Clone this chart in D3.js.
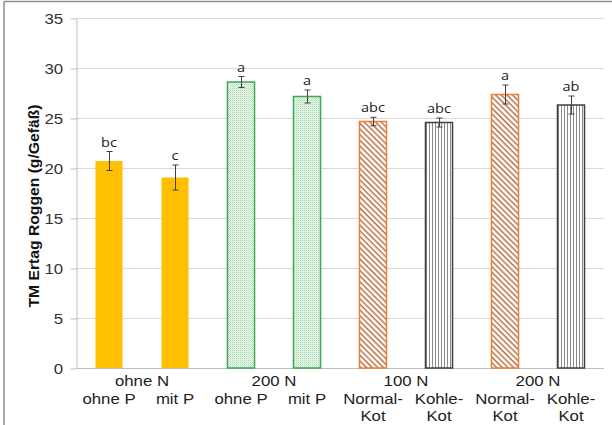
<!DOCTYPE html>
<html>
<head>
<meta charset="utf-8">
<script src="https://cdn.jsdelivr.net/npm/d3@7"></script>
<style>
  body { margin: 0; background: #fff; }
  svg { display: block; }
</style>
</head>
<body>
<svg id="chart" width="612" height="425"></svg>
<script>
// values
var groups = ["ohne N", "200 N", "100 N", "200 N"];
var subLabels = [["ohne P"], ["mit P"], ["ohne P"], ["mit P"],
                 ["Normal-", "Kot"], ["Kohle-", "Kot"], ["Normal-", "Kot"], ["Kohle-", "Kot"]];
var values = [20.7, 19.05, 28.6, 27.15, 24.65, 24.55, 27.35, 26.3];
var errors = [0.95, 1.25, 0.55, 0.65, 0.42, 0.45, 0.95, 0.9];
var letters = ["bc", "c", "a", "a", "abc", "abc", "a", "ab"];
var kinds = ["solid", "solid", "dots", "dots", "hatch", "stripes", "hatch", "stripes"];
var yTicks = [0, 5, 10, 15, 20, 25, 30, 35];

var svg = d3.select("#chart");
var stretch = 1.12;

var x = d3.scaleBand().domain(d3.range(values.length))
    .range([76, 604]).paddingInner(0.59).paddingOuter(0.295);
var y = d3.scaleLinear().domain([0, 35]).range([368, 18]);

// patterns
var defs = svg.append("defs");
var dots = defs.append("pattern").attr("id", "dots")
    .attr("width", 2).attr("height", 2).attr("patternUnits", "userSpaceOnUse");
dots.append("rect").attr("width", 2).attr("height", 2).attr("fill", "#eef8ef");
dots.append("rect").attr("width", 1).attr("height", 1).attr("fill", "#a9d9b0");
dots.append("rect").attr("x", 1).attr("y", 1).attr("width", 1).attr("height", 1).attr("fill", "#cbe9cf");

var hatch = defs.append("pattern").attr("id", "hatch")
    .attr("width", 4).attr("height", 4).attr("patternUnits", "userSpaceOnUse")
    .attr("patternTransform", "rotate(45)");
hatch.append("rect").attr("width", 4).attr("height", 4).attr("fill", "#fff");
hatch.append("rect").attr("width", 4).attr("height", 1.4).attr("fill", "#b5683a");

var stripes = defs.append("pattern").attr("id", "stripes")
    .attr("width", 3).attr("height", 3).attr("patternUnits", "userSpaceOnUse");
stripes.append("rect").attr("width", 3).attr("height", 3).attr("fill", "#fff");
stripes.append("rect").attr("width", 1).attr("height", 3).attr("fill", "#8a8a8a");

var fillOf = { solid: "#ffc000", dots: "url(#dots)", hatch: "url(#hatch)", stripes: "url(#stripes)" };
var strokeOf = { solid: "none", dots: "#3fa852", hatch: "#ed7d31", stripes: "#404040" };

// outer frame (top and left edges only)
svg.append("line").attr("x1", 4).attr("x2", 612).attr("y1", 1.5).attr("y2", 1.5)
    .attr("stroke", "#8c8c8c").attr("stroke-width", 1.5);
svg.append("line").attr("x1", 4).attr("x2", 4).attr("y1", 1.5).attr("y2", 425)
    .attr("stroke", "#8c8c8c").attr("stroke-width", 1.5);

// gridlines
svg.append("g").selectAll("line").data(yTicks.slice(1)).join("line")
    .attr("x1", 76).attr("x2", 604)
    .attr("y1", function(d){ return Math.round(y(d)) + 0.5; })
    .attr("y2", function(d){ return Math.round(y(d)) + 0.5; })
    .attr("stroke", "#d9d9d9");

// y axis
var yAxis = svg.append("g").attr("transform", "translate(76.5,0.5)")
    .call(d3.axisLeft(y).tickValues(yTicks).tickSize(6).tickPadding(6).tickSizeOuter(0));
yAxis.select(".domain").attr("stroke", "#bfbfbf");
yAxis.selectAll(".tick line").attr("stroke", "#bfbfbf");
yAxis.selectAll(".tick text")
    .attr("font-family", "Liberation Sans, Arial, sans-serif")
    .attr("font-size", 15).attr("fill", "#333")
    .attr("transform", "scale(" + stretch + ",1)");

// x baseline
svg.append("line").attr("x1", 76).attr("x2", 604)
    .attr("y1", y(0) + 0.5).attr("y2", y(0) + 0.5).attr("stroke", "#bfbfbf");

// bars
svg.append("g").selectAll("rect").data(values).join("rect")
    .attr("x", function(d, i){ return x(i); })
    .attr("y", function(d){ return y(d); })
    .attr("width", x.bandwidth())
    .attr("height", function(d){ return y(0) - y(d); })
    .attr("fill", function(d, i){ return fillOf[kinds[i]]; })
    .attr("stroke", function(d, i){ return strokeOf[kinds[i]]; })
    .attr("stroke-width", 1.5);

// error bars
var eb = svg.append("g").attr("stroke", "#404040").attr("stroke-width", 1);
values.forEach(function(v, i){
    var cx = Math.round(x(i) + x.bandwidth() / 2) + 0.5;
    var top = y(v + errors[i]), bot = y(v - errors[i]);
    eb.append("line").attr("x1", cx).attr("x2", cx).attr("y1", top).attr("y2", bot);
    eb.append("line").attr("x1", cx - 3).attr("x2", cx + 3).attr("y1", top).attr("y2", top);
    eb.append("line").attr("x1", cx - 3).attr("x2", cx + 3).attr("y1", bot).attr("y2", bot);
});

// significance letters
svg.append("g").selectAll("text").data(letters).join("text")
    .attr("transform", function(d, i){
        return "translate(" + (x(i) + x.bandwidth() / 2) + "," + (y(values[i] + errors[i]) - 5) + ") scale(" + stretch + ",1)";
    })
    .attr("text-anchor", "middle")
    .attr("font-family", "Open Sans, sans-serif")
    .attr("font-size", 13).attr("fill", "#222")
    .text(function(d){ return d; });

// category labels
var labelFont = "Liberation Sans, Arial, sans-serif";
var lab = svg.append("g").attr("font-family", labelFont).attr("font-size", 15)
    .attr("fill", "#222").attr("text-anchor", "middle");
groups.forEach(function(g, k){
    var cx = (x(2 * k) + x(2 * k + 1) + x.bandwidth()) / 2;
    lab.append("text").attr("transform", "translate(" + cx + ",386) scale(" + stretch + ",1)").text(g);
});
subLabels.forEach(function(lines, i){
    var cx = x(i) + x.bandwidth() / 2;
    lines.forEach(function(t, j){
        lab.append("text")
            .attr("transform", "translate(" + cx + "," + (404 + j * 17) + ") scale(" + stretch + ",1)")
            .text(t);
    });
});

// y title
svg.append("text")
    .attr("transform", "translate(39,206) rotate(-90) scale(" + stretch + ",1)")
    .attr("text-anchor", "middle")
    .attr("font-family", labelFont).attr("font-weight", "bold")
    .attr("font-size", 14).attr("fill", "#111")
    .text("TM Ertag Roggen (g/Gefäß)");
</script>
</body>
</html>
